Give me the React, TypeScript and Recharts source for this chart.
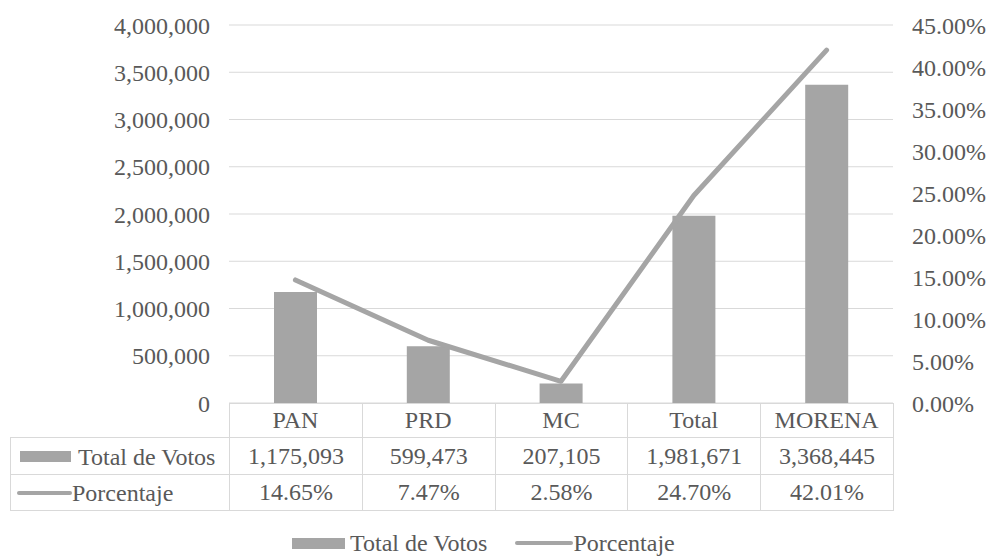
import { Bar, CartesianGrid, ComposedChart, Line, XAxis, YAxis } from 'recharts'

const parties = ['PAN', 'PRD', 'MC', 'Total', 'MORENA']
const votes = [1175093, 599473, 207105, 1981671, 3368445]
const share = [0.1465, 0.0747, 0.0258, 0.247, 0.4201]
const voteTicks = [0, 500000, 1000000, 1500000, 2000000, 2500000, 3000000, 3500000, 4000000]
const shareTicks = [0, 0.05, 0.1, 0.15, 0.2, 0.25, 0.3, 0.35, 0.4, 0.45]
const votesLabel = 'Total de Votos'
const shareLabel = 'Porcentaje'

const font = 'Liberation Serif, DejaVu Serif, serif'
const ink = '#595959'
const grey = '#a5a5a5'
const rule = '#d9d9d9'

const fmtVotes = (v: number) => v.toLocaleString('en-US')
const fmtShare = (v: number) => (v * 100).toFixed(2) + '%'

const data = parties.map((name, i) => ({ name, votes: votes[i], share: share[i] }))

const tick = { fill: ink, fontSize: 24, fontFamily: font }

const cellBase: React.CSSProperties = {
	border: `1px solid ${rule}`,
	textAlign: 'center',
	padding: 0,
	fontSize: 24,
	fontFamily: font,
	color: ink,
	whiteSpace: 'nowrap',
}

function DataTable() {
	return (
		<table
			style={{
				position: 'absolute',
				left: 10,
				top: 403,
				borderCollapse: 'collapse',
				tableLayout: 'fixed',
				width: 883,
				fontFamily: font,
			}}
		>
			<colgroup>
				<col style={{ width: 219 }} />
				{parties.map((p) => (
					<col key={p} style={{ width: 132.8 }} />
				))}
			</colgroup>
			<tbody>
				<tr style={{ height: 34 }}>
					<td style={{ ...cellBase, borderTop: 'none', borderLeft: 'none' }} />
					{parties.map((p) => (
						<td key={p} style={cellBase} />
					))}
				</tr>
				<tr style={{ height: 37 }}>
					<td style={{ ...cellBase, textAlign: 'left' }}>
						<span style={{ display: 'inline-block', width: 51, height: 11, background: grey, margin: '0 7px 0 9px', verticalAlign: 'middle' }} />
						<span style={{ verticalAlign: 'middle' }}>{votesLabel}</span>
					</td>
					{votes.map((v, i) => (
						<td key={i} style={cellBase}>{fmtVotes(v)}</td>
					))}
				</tr>
				<tr style={{ height: 36 }}>
					<td style={{ ...cellBase, textAlign: 'left' }}>
						<span style={{ display: 'inline-block', width: 55, height: 4, borderRadius: 2, background: grey, margin: '0 0 0 6px', verticalAlign: 'middle' }} />
						<span style={{ verticalAlign: 'middle' }}>{shareLabel}</span>
					</td>
					{share.map((v, i) => (
						<td key={i} style={cellBase}>{fmtShare(v)}</td>
					))}
				</tr>
			</tbody>
		</table>
	)
}

function LegendRow() {
	return (
		<div
			style={{
				position: 'absolute',
				left: 292,
				top: 528,
				height: 30,
				display: 'flex',
				alignItems: 'center',
				fontFamily: font,
				fontSize: 24,
				color: ink,
				whiteSpace: 'nowrap',
			}}
		>
			<span style={{ display: 'inline-block', width: 53, height: 11, background: grey, marginRight: 5 }} />
			<span>{votesLabel}</span>
			<span style={{ display: 'inline-block', width: 58, height: 4, borderRadius: 2, background: grey, marginLeft: 28 }} />
			<span>{shareLabel}</span>
		</div>
	)
}

export default function App() {
	return (
		<div style={{ position: 'absolute', left: 0, top: 0, width: 993, height: 556, background: '#fff', fontFamily: font }}>
			<ComposedChart
				width={993}
				height={556}
				data={data}
				margin={{ top: 25, right: 10, bottom: 120, left: 149 }}
			>
				<CartesianGrid yAxisId="votes" vertical={false} stroke={rule} />
				<XAxis
					dataKey="name"
					axisLine={false}
					tickLine={false}
					tickSize={0}
					tickMargin={8}
					height={33}
					interval={0}
					tick={tick}
				/>
				<YAxis
					yAxisId="votes"
					width={80}
					domain={[0, 4000000]}
					ticks={voteTicks}
					interval={0}
					axisLine={false}
					tickLine={false}
					tickSize={0}
					tickMargin={19}
					tickFormatter={fmtVotes}
					tick={tick}
				/>
				<YAxis
					yAxisId="share"
					orientation="right"
					width={90}
					domain={[0, 0.45]}
					ticks={shareTicks}
					interval={0}
					axisLine={false}
					tickLine={false}
					tickSize={0}
					tickMargin={19}
					tickFormatter={fmtShare}
					tick={tick}
				/>
				<Bar yAxisId="votes" dataKey="votes" name={votesLabel} fill={grey} barSize={43} isAnimationActive={false} />
				<Line
					yAxisId="share"
					dataKey="share"
					name={shareLabel}
					stroke={grey}
					strokeWidth={5}
					strokeLinecap="round"
					strokeLinejoin="round"
					dot={false}
					activeDot={false}
					isAnimationActive={false}
				/>
			</ComposedChart>
			<DataTable />
			<LegendRow />
		</div>
	)
}
